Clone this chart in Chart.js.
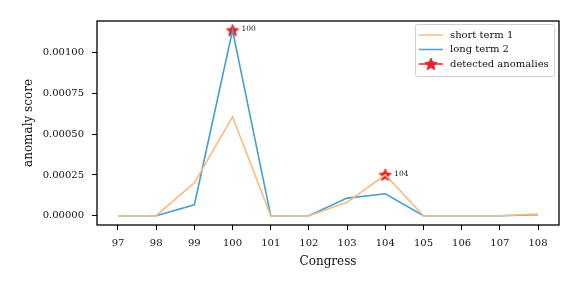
<!DOCTYPE html>
<html><head><meta charset="utf-8">
<script src="https://cdn.jsdelivr.net/npm/chart.js@4/dist/chart.umd.min.js"></script>
<style>html,body{margin:0;padding:0;background:#fff}#wrap{width:581px;height:291px}</style>
</head><body><div id="wrap"><canvas id="c" width="581" height="291"></canvas></div>
<script>
const congresses = [97, 98, 99, 100, 101, 102, 103, 104, 105, 106, 107, 108];
const shortTerm1 = [0, 0, 0.000202, 0.000607, 0, 0, 0.000082, 0.000251, 0, 0, 0, 0.00001];
const longTerm2 = [0, 0, 0.000067, 0.001137, 0, 0, 0.000108, 0.000135, 0, 0, 0, 0.000006];
const anomalyCongress = [100, 104];
const anomalyScore = [0.001137, 0.000251];
const yTicks = [0, 0.00025, 0.0005, 0.00075, 0.001];

const FONT = "'DejaVu Serif', serif";
const ORANGE = '#fdb87f', BLUE = '#43a1cc', RED = '#e3262a';

function starCanvas(size) {
  const c = document.createElement('canvas');
  c.width = size; c.height = size;
  const g = c.getContext('2d');
  const cx = size/2, cy = size/2 + 0.5, R = size/2 - 0.5, r = R*0.47;
  g.beginPath();
  for (let i = 0; i < 10; i++) {
    const a = -Math.PI/2 + i*Math.PI/5;
    const rr = i % 2 ? r : R;
    g.lineTo(cx + rr*Math.cos(a), cy + rr*Math.sin(a));
  }
  g.closePath();
  g.fillStyle = RED; g.fill();
  g.strokeStyle = '#dd2226'; g.lineWidth = 0.8; g.stroke();
  return c;
}
const star = starCanvas(14);

const frame = {
  id: 'frame',
  afterDraw(chart) {
    const {ctx, chartArea: a} = chart;
    ctx.save();
    ctx.strokeStyle = '#000'; ctx.lineWidth = 1.3;
    ctx.strokeRect(a.left, a.top, a.right - a.left, a.bottom - a.top);
    const xs = chart.scales.x, ys = chart.scales.y;
    ctx.fillStyle = '#111'; ctx.font = "7.5px " + FONT; ctx.textBaseline = 'middle'; ctx.textAlign = 'left';
    anomalyCongress.forEach((c, i) => {
      ctx.fillText(String(c), xs.getPixelForValue(c) + 9, ys.getPixelForValue(anomalyScore[i]) - 1);
    });
    const bx = 415, by = 24, bw = 139, bh = 52;
    ctx.fillStyle = 'rgba(255,255,255,0.85)';
    ctx.strokeStyle = '#d0d0d0'; ctx.lineWidth = 1;
    ctx.beginPath();
    if (ctx.roundRect) ctx.roundRect(bx + 0.5, by + 0.5, bw, bh, 2); else ctx.rect(bx + 0.5, by + 0.5, bw, bh);
    ctx.fill(); ctx.stroke();
    const items = chart.data.datasets;
    const rows = [35, 49.5, 64];
    items.forEach((ds, i) => {
      const y = rows[i];
      ctx.strokeStyle = ds.legendColor; ctx.lineWidth = 1.5;
      ctx.beginPath(); ctx.moveTo(419, y); ctx.lineTo(443, y); ctx.stroke();
      if (ds.isAnomaly) ctx.drawImage(star, 431 - 7, y - 7);
      ctx.fillStyle = '#111'; ctx.font = "10px " + FONT; ctx.textBaseline = 'middle';
      ctx.fillText(ds.label, 450, y);
    });
    ctx.restore();
  }
};

new Chart(document.getElementById('c'), {
  type: 'line',
  data: {
    datasets: [
      { label: 'short term 1', data: congresses.map((c, i) => ({x: c, y: shortTerm1[i]})),
        borderColor: ORANGE, legendColor: ORANGE, borderWidth: 1.6, pointRadius: 0, tension: 0 },
      { label: 'long term 2', data: congresses.map((c, i) => ({x: c, y: longTerm2[i]})),
        borderColor: BLUE, legendColor: BLUE, borderWidth: 1.6, pointRadius: 0, tension: 0 },
      { label: 'detected anomalies', data: anomalyCongress.map((c, i) => ({x: c, y: anomalyScore[i]})),
        showLine: false, pointStyle: star, pointRadius: 7, borderColor: RED, backgroundColor: RED,
        legendColor: RED, isAnomaly: true }
    ]
  },
  options: {
    responsive: false, animation: false, devicePixelRatio: 1,
    layout: { padding: { left: 0, top: 21, right: 22, bottom: 0 } },
    plugins: { legend: { display: false }, tooltip: { enabled: false } },
    scales: {
      x: {
        type: 'linear', min: 96.45, max: 108.55,
        afterBuildTicks: s => { s.ticks = congresses.map(v => ({value: v})); },
        afterFit: s => { s.height = 66; },
        grid: { drawOnChartArea: false, drawTicks: true, tickLength: 5, tickWidth: 1, tickColor: '#000' },
        border: { display: false },
        ticks: { color: '#111', font: { family: FONT, size: 10 }, padding: 7, maxRotation: 0, callback: v => String(v) },
        title: { display: true, text: 'Congress', color: '#111', font: { family: FONT, size: 12 }, padding: { top: 0, bottom: 22 } }
      },
      y: {
        min: -0.0000569, max: 0.001194,
        afterBuildTicks: s => { s.ticks = yTicks.map(v => ({value: v})); },
        afterFit: s => { s.width = 97; },
        grid: { drawOnChartArea: false, drawTicks: true, tickLength: 5, tickWidth: 1, tickColor: '#000' },
        border: { display: false },
        ticks: { color: '#111', font: { family: FONT, size: 10 }, padding: 8, callback: v => v.toFixed(5) },
        title: { display: true, text: 'anomaly score', color: '#111', font: { family: FONT, size: 12 }, padding: { top: 22, bottom: 0 } }
      }
    }
  },
  plugins: [frame]
});
</script></body></html>
